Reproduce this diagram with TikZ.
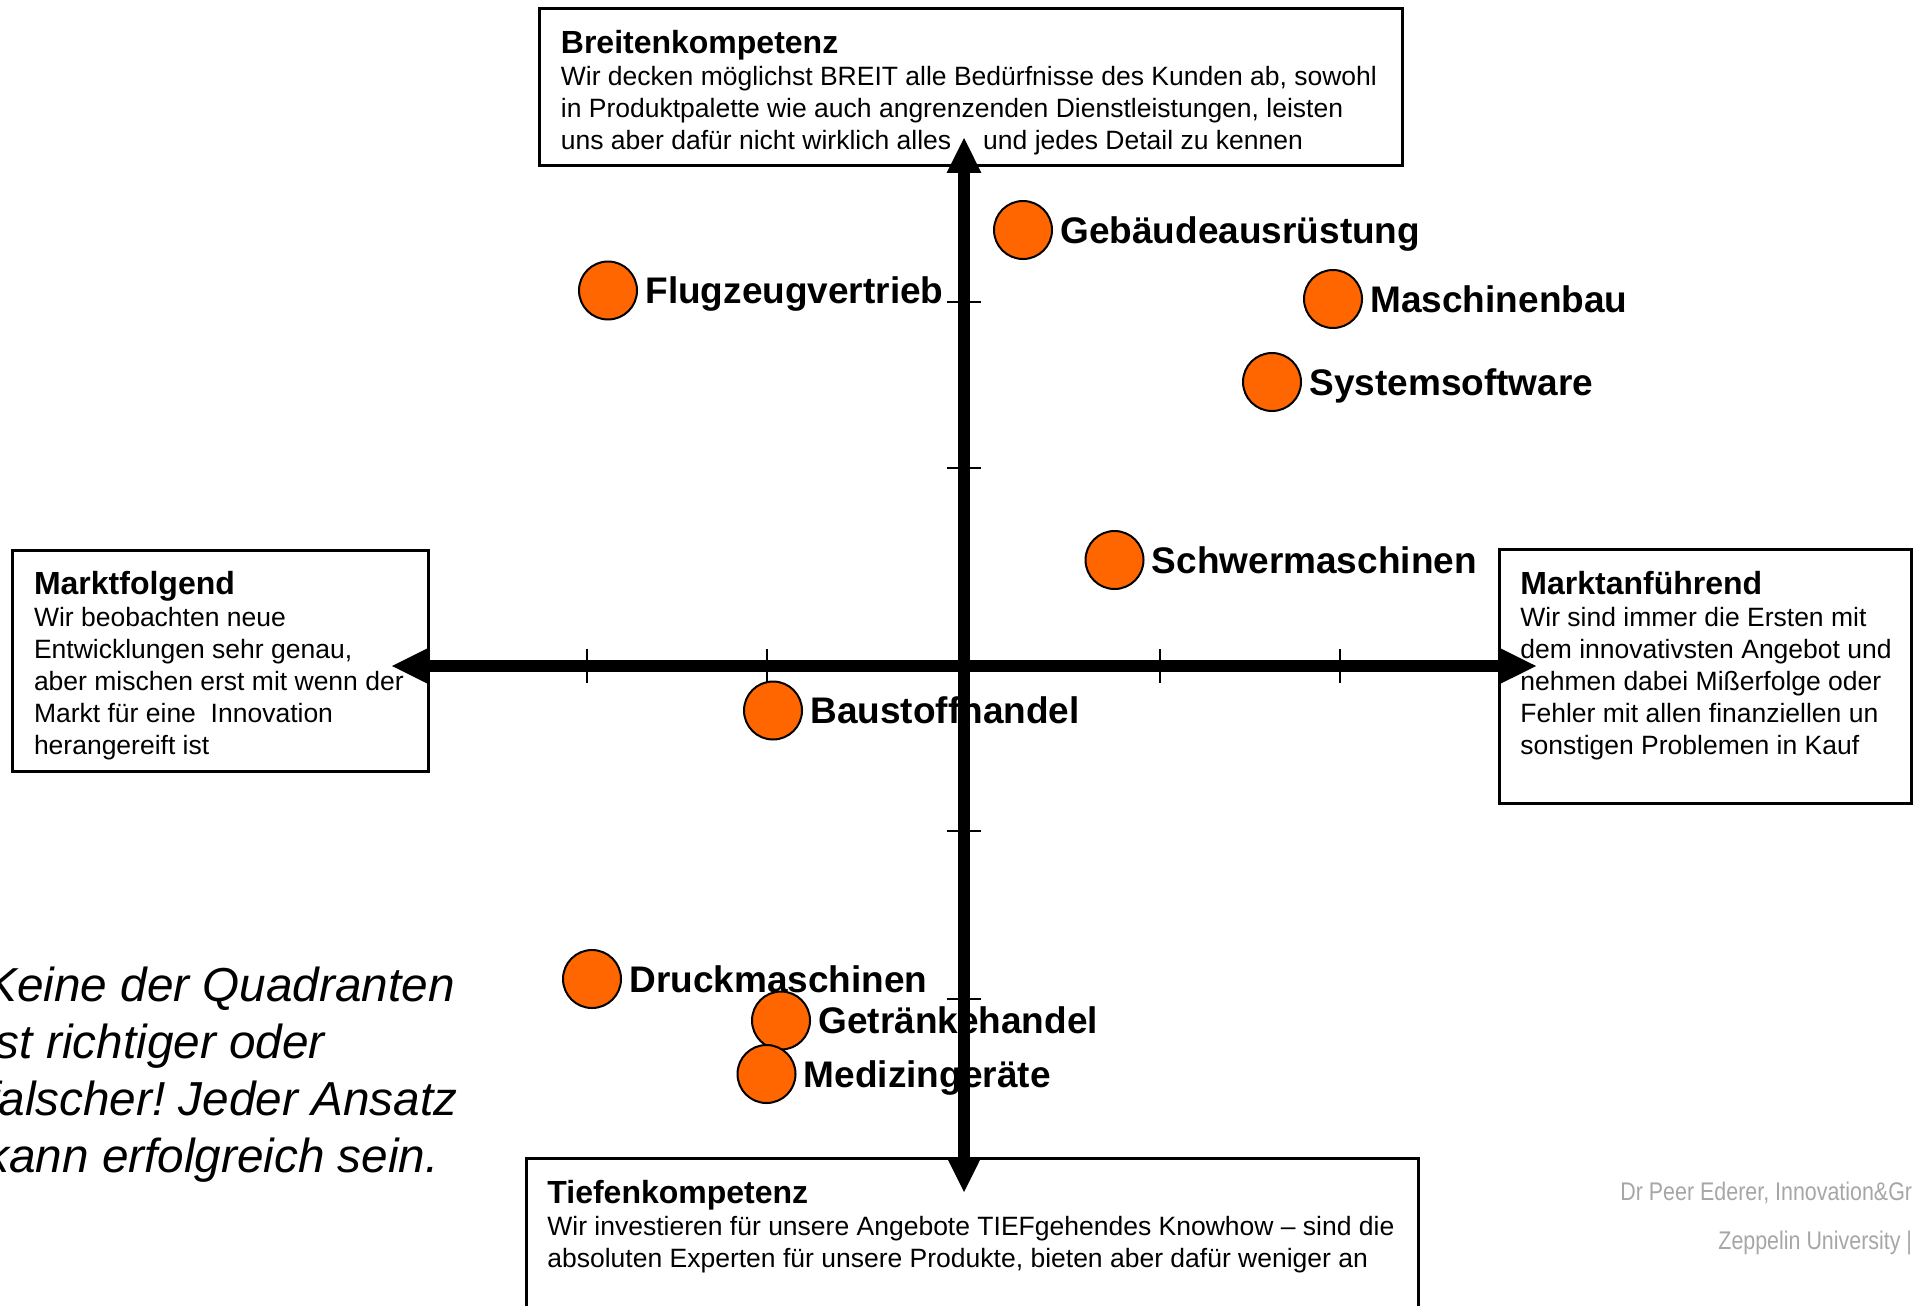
\documentclass[tikz,border=0pt]{standalone}
\usepackage{fontspec}
\setmainfont{Liberation Sans}
\newfontfamily\footfont[FakeStretch=0.84]{Liberation Sans}
\usepackage{xcolor}
\usepackage{tikz}
\usetikzlibrary{positioning,arrows.meta}
\definecolor{cDot}{HTML}{FF6600}
\definecolor{cFoot}{HTML}{A6A6A6}
\newcommand{\boxhead}[1]{{\fontsize{16}{16}\selectfont\bfseries #1}}
\frenchspacing
\tikzset{
  >={Triangle[length=18pt,width=16pt]},
  box/.style={draw,fill=white,line width=1.5pt,outer sep=0pt,inner sep=0pt,anchor=north west},
  boxtxt/.style={align=left,inner sep=0pt,anchor=north west,font=\fontsize{13.25}{16}\selectfont},
  dot/.style={circle,draw=black,fill=cDot,line width=1pt,minimum size=29pt,inner sep=0pt},
  lbl/.style={inner sep=0pt,font=\fontsize{18.5}{22}\selectfont\bfseries,text height=13.3pt,text depth=0pt},
  axis/.style={<->,line width=6pt},
  tick/.style={line width=1pt},
  note/.style={align=left,inner sep=0pt,anchor=north west,font=\fontsize{23.85}{28.5}\selectfont\itshape},
  foot/.style={inner sep=0pt,anchor=base west,text=cFoot,font=\footfont\fontsize{12.75}{15}\selectfont},
}
\begin{document}
\begin{tikzpicture}[x=0.5pt,y=-0.5pt]
  \useasboundingbox (0,0) rectangle (1914,1305);
  % --- the four poles ---
  \node[box,minimum width=431.5pt,minimum height=78.75pt] (breite) at (539.5,8.5) {};
  \node[box,minimum width=208.25pt,minimum height=110.5pt] (folgend) at (12,550.5) {};
  \node[box,minimum width=206.25pt,minimum height=127pt] (fuehrend) at (1499,549) {};
  \node[box,minimum width=446.25pt,minimum height=86pt] (tiefe) at (526,1158.5) {};
  \node[boxtxt] (breiteT) at ([shift={(10.5pt,-10.75pt)}]breite.north west)
    {\boxhead{Breitenkompetenz}\\
     Wir decken möglichst BREIT alle Bedürfnisse des Kunden ab, sowohl\\
     in Produktpalette wie auch angrenzenden Dienstleistungen, leisten\\
     uns aber dafür nicht wirklich alles\hspace*{1.21em}und jedes Detail zu kennen};
  \node[boxtxt] (folgendT) at ([shift={(10.8pt,-10pt)}]folgend.north west)
    {\boxhead{Marktfolgend}\\
     Wir beobachten neue\\
     Entwicklungen sehr genau,\\
     aber mischen erst mit wenn der\\
     Markt für eine~~Innovation\\
     herangereift ist};
  \node[boxtxt] (fuehrendT) at ([shift={(10.5pt,-10.75pt)}]fuehrend.north west)
    {\boxhead{Marktanführend}\\
     Wir sind immer die Ersten mit\\
     dem innovativsten Angebot und\\
     nehmen dabei Mißerfolge oder\\
     Fehler mit allen finanziellen un\\
     sonstigen Problemen in Kauf};
  \node[boxtxt] (tiefeT) at ([shift={(10.5pt,-10.75pt)}]tiefe.north west)
    {\boxhead{Tiefenkompetenz}\\
     Wir investieren für unsere Angebote TIEFgehendes Knowhow – sind die\\
     absoluten Experten für unsere Produkte, bieten aber dafür weniger an};
  % --- industries ---
  \node[dot] (flug) at (608,290.5) {};
  \node[lbl,right=3.5pt of flug] (flugL) {Flugzeugvertrieb};
  \node[dot] (geb) at (1023,230) {};
  \node[lbl,right=3.5pt of geb] (gebL) {Gebäudeausrüstung};
  \node[dot] (masch) at (1333,299) {};
  \node[lbl,right=3.5pt of masch] (maschL) {Maschinenbau};
  \node[dot] (sys) at (1272,382) {};
  \node[lbl,right=3.5pt of sys] (sysL) {Systemsoftware};
  \node[dot] (schwer) at (1114.5,560) {};
  \node[lbl,right=3.5pt of schwer] (schwerL) {Schwermaschinen};
  \node[dot] (bau) at (773,710.5) {};
  \node[lbl,right=3.5pt of bau] (bauL) {Baustoffhandel};
  \node[dot] (druck) at (592,979) {};
  \node[lbl,right=3.5pt of druck] (druckL) {Druckmaschinen};
  \node[dot] (getr) at (781,1020.5) {};
  \node[lbl,right=3.5pt of getr] (getrL) {Getränkehandel};
  \node[dot] (med) at (766.5,1074) {};
  \node[lbl,right=3.5pt of med] (medL) {Medizingeräte};
  % --- axes ---
  \coordinate (xl) at (391,666);
  \coordinate (xr) at (1537,666);
  \coordinate (yt) at (964,137);
  \coordinate (yb) at (964,1193);
  \draw[axis] (xl) -- (xr);
  \draw[axis] (yt) -- (yb);
  \foreach \tx in {587,767,1160,1340} \draw[tick] (\tx,649) -- (\tx,683);
  \foreach \ty in {302,468,831,999} \draw[tick] (947,\ty) -- (981,\ty);
  % --- note + footer ---
  \node[note] (hint) at (-15,967)
    {Keine der Quadranten\\ist richtiger oder\\falscher! Jeder Ansatz\\kann erfolgreich sein.};
  \node[foot] (footA) at (1620,1200) {Dr Peer Ederer, Innovation\&Gr};
  \node[foot] (footB) at (1718,1249) {Zeppelin University |};
\end{tikzpicture}
\end{document}
